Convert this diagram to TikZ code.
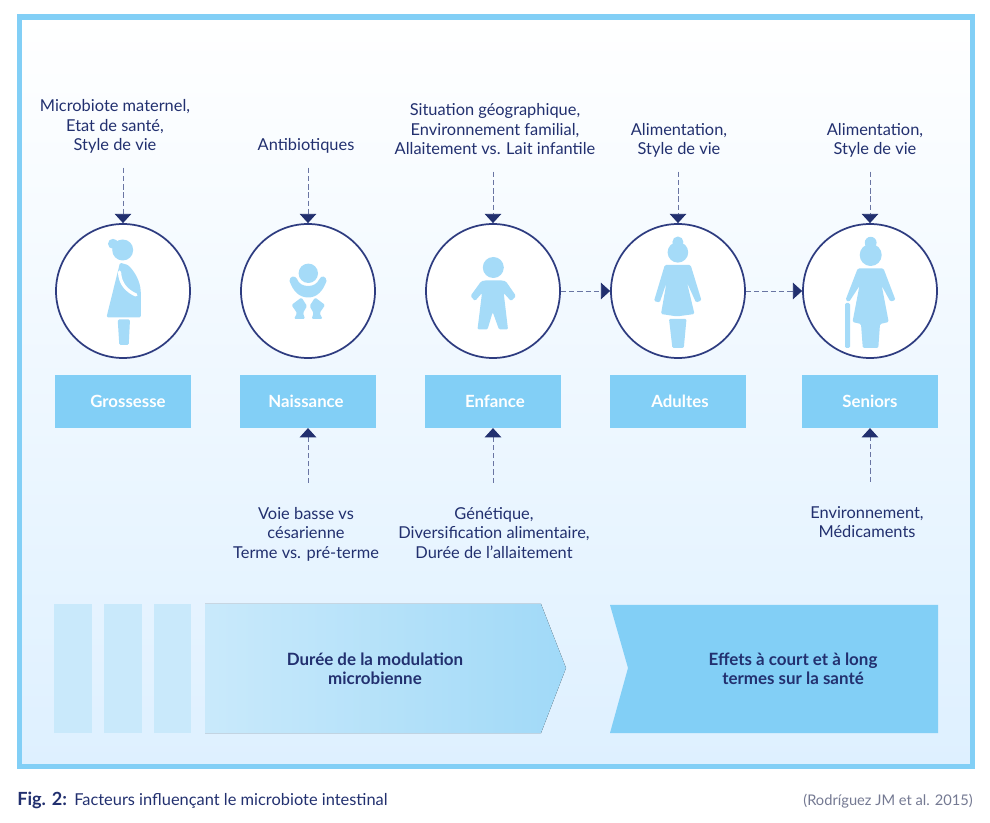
\documentclass[tikz,border=0pt]{standalone}
\usepackage{fontspec}
\setmainfont{Lato}
\usetikzlibrary{arrows.meta}
\definecolor{navy}{HTML}{22306F}
\definecolor{ringblue}{HTML}{2E3C80}
\definecolor{dashblue}{HTML}{6A75A3}
\definecolor{skyblue}{HTML}{82CFF6}
\definecolor{iconblue}{HTML}{A5DBF8}
\tikzset{
	phase/.style={circle, draw=ringblue, line width=1.3pt, fill=white, minimum size=100.5pt, inner sep=0pt},
	stage/.style={fill=skyblue, minimum width=102pt, minimum height=39.5pt, inner sep=0pt, text=white, font=\fontsize{12.6}{15}\selectfont\bfseries},
	factor/.style={align=center, inner sep=0pt, text=navy, font=\fontsize{12.3}{14.6}\selectfont},
	effect/.style={align=center, inner sep=0pt, text=navy, font=\fontsize{12.7}{14.3}\selectfont\bfseries},
	influence/.style={draw=dashblue, line width=0.7pt, dash pattern=on 4pt off 2.2pt, -{Triangle[length=7pt,width=12.5pt,color=navy]}},
	icon/.style={fill=iconblue, rounded corners=1pt},
}
\begin{document}
\begin{tikzpicture}[x=0.75pt, y=-0.75pt]
	\useasboundingbox (0,0) rectangle (990,823);

	% frame and background
	\draw[draw=skyblue, line width=3.8pt, top color=white, bottom color=blue!45!cyan!13] (19.5,17) rectangle (972.5,766.5);

	% life stages
	\foreach \name/\x/\bx/\dx/\txt in {gros/123/123/7.5/Grossesse, nais/308/308/-3/Naissance, enf/493/492.5/3.75/Enfance, adu/678/677.5/3.75/Adultes, sen/870/870/0/Seniors} {
		\node[phase] (c\name) at (\x, 291) {};
		\node[stage] (b\name) at (\bx, 401.5) {\hspace*{\dx pt}\txt};
	}

	% factors above
	\foreach \name/\x/\y/\txt in {gros/115/157/{Microbiote maternel,\\Etat de santé,\\Style de vie}, nais/306/157/{Antibiotiques}, enf/495/161/{Situation géographique,\\Environnement familial,\\Allaitement vs. Lait infantile}, adu/679/161/{Alimentation,\\Style de vie}, sen/875/161/{Alimentation,\\Style de vie}} {
		\node[factor, anchor=south, execute at end node=\strut] (t\name) at (\x, \y) {\txt};
		\draw[influence, shorten <=8pt] (t\name.south -| c\name.north) -- (c\name.north);
	}

	% factors below
	\foreach \name/\x/\y/\txt in {nais/306/507/{Voie basse vs\\césarienne\\Terme vs. pré-terme}, enf/494/507/{Génétique,\\Diversification alimentaire,\\Durée de l’allaitement}, sen/867/506/{Environnement,\\Médicaments}} {
		\node[factor, anchor=north, execute at begin node=\strut] (u\name) at (\x, \y) {\txt};
		\draw[influence, shorten <=18pt] (u\name.north -| c\name.south) -- (b\name.south -| c\name.south);
	}

	% from child to adult to senior
	\draw[influence] (cenf) -- (cadu);
	\draw[influence] (cadu) -- (csen);

	% pregnant woman
	\fill[iconblue] (122.7,250) circle (10.5) (113,243.8) circle (5);
	\fill[icon] (120,262.7) -- (106.5,317.3) -- (140.8,317.3) -- (140.8,292) .. controls (140,281) and (135,272) .. (128,265) -- cycle;
	\draw[white, line width=2.4pt, line cap=round] (119.5,272) .. controls (120,284) and (127,291) .. (136,295);
	\fill[icon] (117.7,319.5) -- (130,319.5) -- (128.7,345) -- (119.3,345) -- cycle;

	% baby
	\fill[iconblue] (308.3,273.3) circle (9.7);
	\fill[iconblue] (289.5,281) .. controls (293,291) and (299,297.5) .. (308.3,297.5) .. controls (317,297.5) and (323,291) .. (326.5,281) .. controls (326.5,276) and (321,275) .. (319.5,279) .. controls (317,284) and (313,286) .. (308.3,286) .. controls (303,286) and (299,284) .. (297,279) .. controls (295,275) and (289.5,276) .. (289.5,281) -- cycle;
	\fill[icon] (291.5,305) -- (301.5,297.5) -- (307,306) -- (303,313) -- (305,319) -- (294,319) -- (297,313) -- cycle;
	\fill[icon] (325.1,305) -- (315.1,297.5) -- (309.6,306) -- (313.6,313) -- (311.6,319) -- (322.6,319) -- (319.6,313) -- cycle;

	% child
	\fill[iconblue] (493.3,267.5) circle (10.5);
	\fill[icon] (484,280.5) -- (503,280.5) -- (506,281.5) -- (516,296) -- (511,301) -- (503.7,293) -- (508,329.5) -- (499,329.5) -- (492.7,312) -- (487.5,329.5) -- (477.5,329.5) -- (482,293) -- (475,301) -- (470.5,296) -- (481,281.5) -- cycle;

	% woman
	\fill[iconblue] (677.9,252.3) circle (10.3) (677.9,242) circle (5.5);
	\fill[icon] (664.8,265) -- (690.6,265) -- (701.5,300.5) -- (696,302.5) -- (687,282.6) -- (694.5,314) -- (677,316.4) -- (661,314) -- (666.5,282.6) -- (659.7,302.5) -- (654,301) -- cycle;
	\fill[icon] (669,318.8) -- (686.5,318.8) -- (683.8,348) -- (672.4,348) -- cycle;

	% old woman with cane
	\fill[iconblue] (870.7,255) circle (11) (870.7,242.7) circle (5.9);
	\fill[icon] (857.7,268.5) -- (883.5,268.5) -- (895.5,300) -- (890.4,301.6) -- (881.8,286) -- (888.7,322) -- (880,324) -- (878.3,348) -- (862.8,348) -- (861,324) -- (852.5,322) -- (859.4,286) -- (849,302) -- (845.6,299.9) -- cycle;
	\fill[icon] (845,303) rectangle (850,348);

	% bottom band
	\foreach \xa/\xb in {54/92, 104/142, 154/191}
		\fill[iconblue!60] (\xa,604) rectangle (\xb,733);
	\fill[left color=iconblue!60, right color=iconblue!105] (205,604) -- (541,604) -- (566,668) -- (541,733) -- (205,733) -- cycle;
	\fill[skyblue] (610,605) -- (938,605) -- (938,733) -- (610,733) -- (628,668) -- cycle;
	\node[effect] (duree) at (375,669) {Durée de la modulation\\microbienne};
	\node[effect] (effets) at (793,669) {Effets à court et à long\\termes sur la santé};

	% caption
	\node[anchor=base west, inner sep=0pt, text=navy, font=\fontsize{13.6}{15}\selectfont\bfseries] (fig) at (17,805) {Fig. 2:};
	\node[anchor=base west, inner sep=0pt, text=navy, font=\fontsize{12.3}{14}\selectfont] (legende) at (74,805) {Facteurs influençant le microbiote intestinal};
	\node[anchor=base east, inner sep=0pt, text=navy!50!gray!80, font=\fontsize{11}{14}\selectfont] (source) at (973,805) {(Rodríguez JM et al. 2015)};
\end{tikzpicture}
\end{document}
